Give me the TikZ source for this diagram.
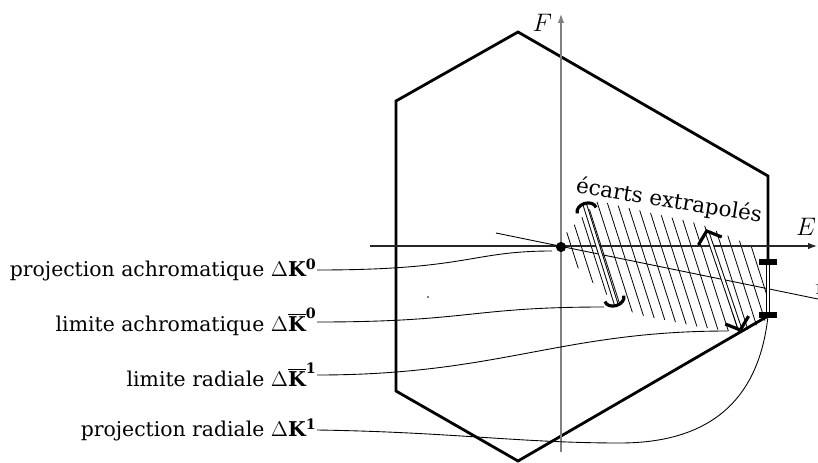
\documentclass[tikz,border=0pt]{standalone}
\usepackage{fontspec}
\setmainfont{DejaVu Serif}
\usetikzlibrary{arrows.meta}

\begin{document}
\begin{tikzpicture}[x=0.02cm, y=-0.02cm,
  hexa/.style={line width=1.6pt, line join=miter},
  axis/.style={line width=0.6pt, -{Latex[length=5pt,width=3.6pt]}},
  lead/.style={line width=0.5pt},
  hatch/.style={line width=0.45pt},
  dbl/.style={double, double distance=1.5pt, line width=0.55pt},
  lab/.style={anchor=east, inner sep=0pt, font=\fontsize{11.6}{14}\selectfont}]

  \useasboundingbox (0,0) rectangle (818,463);

  % Vertices
  \coordinate (T) at (518,32);
  \coordinate (UR) at (768,176);
  \coordinate (LR) at (768,316);
  \coordinate (B) at (518,461);
  \coordinate (LL) at (396,391);
  \coordinate (UL) at (396,101);
  \coordinate (O) at (561,247);

  % Hatching
  \begin{scope}
    \clip (556,243) -- (598,201) -- (700,224) -- (766,252) -- (766,320)
      -- (742,333) -- (700,327) -- (635,314) -- (600,290) -- (576,266) -- cycle;
    \foreach \x in {550,560,...,730}
      \draw[hatch] (\x,180) -- ++(54.4,170);
  \end{scope}

  % Hexagon
  \draw[hexa] (T) -- (UR) -- (LR) -- (B) -- (LL) -- (UL) -- cycle;

  % Axes
  \draw[axis, gray] (561,452) -- (561,14) node[black, left=1.5pt, pos=0.98] {\fontsize{15}{16}\selectfont$F$};
  \draw[axis, black!85] (370,246) -- (817,246);
  \node at (806,227) {\fontsize{15}{16}\selectfont$E$};

  % Projection line
  \draw[lead] (496,233) -- (818,299);
  \node[anchor=west, inner sep=0pt] at (814,289) {\fontsize{9}{10}\selectfont$1$};

  % Origin
  \fill (O) circle (2.9pt);
  \fill (428,297) circle (0.45pt);

  % Gaps
  \coordinate (a1) at (584,202);
  \coordinate (a2) at (617,307);
  \coordinate (b1) at (706,229);
  \coordinate (b2) at (741,332);
  \draw[dbl, {Arc Barb[length=5pt,width=13pt,line width=1.8pt]}-{Arc Barb[length=5pt,width=13pt,line width=1.8pt]}] (a1) -- (a2);
  \draw[dbl, {Straight Barb[length=6pt,width=14pt,line width=1.8pt]}-{Straight Barb[length=6pt,width=14pt,line width=1.8pt]}] (b1) -- (b2);

  % I-bar
  \coordinate (i1) at (768,262);
  \coordinate (i2) at (768,315);
  \draw[dbl] (i1) -- (i2);
  \draw[line width=3.2pt] ([xshift=-5pt]i1) -- ([xshift=5pt]i1);
  \draw[line width=3.2pt] ([xshift=-5pt]i2) -- ([xshift=5pt]i2);

  \node[rotate=-9, font=\fontsize{12.2}{14}\selectfont] (ecarts) at (669,201) {écarts extrapolés};

  % Labels
  \node[lab] (pa) at (317,270) {projection achromatique $\Delta\mathbf{K}^{\mathbf{0}}$};
  \node[lab] (la) at (317,322) {limite achromatique $\Delta\overline{\mathbf{K}}^{\mathbf{0}}$};
  \node[lab] (lr) at (317,375) {limite radiale $\Delta\overline{\mathbf{K}}^{\mathbf{1}}$};
  \node[lab] (pr) at (317,430) {projection radiale $\Delta\mathbf{K}^{\mathbf{1}}$};

  % Leaders
  \draw[lead] (pa.east) .. controls (470,270) and (470,251) .. (552,251);
  \draw[lead] (la.east) .. controls (470,322) and (470,307) .. (604,307);
  \draw[lead] (lr.east) .. controls (500,375) and (560,331) .. (728,331);
  \draw[lead] (pr.east) .. controls (450,432) and (520,443) .. (620,443)
    .. controls (720,443) and (760,390) .. (LR);

\end{tikzpicture}
\end{document}
